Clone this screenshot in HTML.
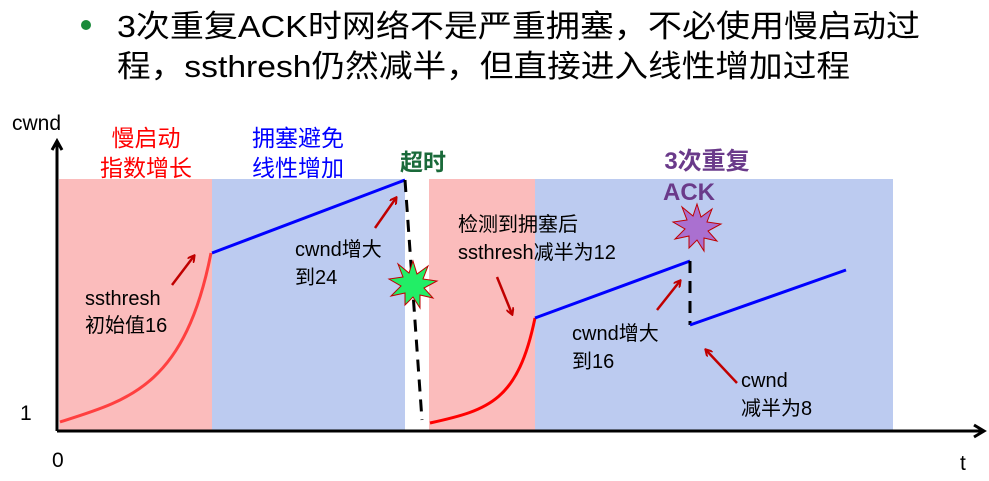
<!DOCTYPE html>
<html><head><meta charset="utf-8"><style>
html,body{margin:0;padding:0;background:#fff;}
svg{display:block;}
text{font-family:"Liberation Sans","Noto Sans CJK SC",sans-serif;}
</style></head><body>
<svg width="989" height="481" viewBox="0 0 989 481" xmlns="http://www.w3.org/2000/svg">
<defs>
<marker id="ar" markerWidth="8" markerHeight="8" refX="6" refY="4" orient="auto" markerUnits="userSpaceOnUse"><path d="M0,0 L7,4 L0,8" fill="none" stroke="#c00000" stroke-width="2"/></marker>
</defs>
<circle cx="86" cy="25" r="5" fill="#1a8a3a"/>
<text x="117" y="37" font-size="31" fill="#000" textLength="803" lengthAdjust="spacingAndGlyphs">3次重复ACK时网络不是严重拥塞，不必使用慢启动过</text>
<text x="117" y="77" font-size="31" fill="#000" textLength="733" lengthAdjust="spacingAndGlyphs">程，ssthresh仍然减半，但直接进入线性增加过程</text>
<rect x="59" y="179" width="153" height="251" fill="#fbbcbc"/>
<rect x="212" y="179" width="193" height="251" fill="#bccbf0"/>
<rect x="429" y="179" width="106" height="251" fill="#fbbcbc"/>
<rect x="535" y="179" width="358" height="251" fill="#bccbf0"/>
<line x1="57" y1="431" x2="982" y2="431" stroke="#000" stroke-width="3"/>
<path d="M974,425 L984,431 L974,437" fill="none" stroke="#000" stroke-width="3"/>
<line x1="57" y1="431" x2="57" y2="142" stroke="#000" stroke-width="3"/>
<path d="M52,150 L57,141 L62,150" fill="none" stroke="#000" stroke-width="3"/>
<path d="M60,422 C130,400 185,385 211,253" fill="none" stroke="#ff4040" stroke-width="3"/>
<line x1="212" y1="253" x2="405" y2="180" stroke="#0000ff" stroke-width="3"/>
<line x1="405" y1="180" x2="422" y2="420" stroke="#000" stroke-width="3" stroke-dasharray="12,8"/>
<path d="M430,423 C490,410 518,400 535,318" fill="none" stroke="#ff0000" stroke-width="3"/>
<line x1="535" y1="318" x2="690" y2="261" stroke="#0000ff" stroke-width="3"/>
<line x1="690" y1="261" x2="690" y2="325" stroke="#000" stroke-width="3" stroke-dasharray="12,8"/>
<line x1="690" y1="325" x2="846" y2="270" stroke="#0000ff" stroke-width="3"/>
<polygon points="413,261 417,274 428,266 423,279 437,281 424,288 433,298 420,295 420,308 413,297 405,305 405,293 391,296 401,286 389,279 403,277 398,264 409,273" fill="#22ee66" stroke="#c00000" stroke-width="1"/>
<polygon points="697,204 701,217 712,209 707,222 721,224 708,231 717,241 704,238 704,251 697,240 689,248 689,236 675,239 685,229 673,222 687,220 682,207 693,216" fill="#aa70d0" stroke="#c00000" stroke-width="1"/>
<g stroke="#c00000" stroke-width="2.5" marker-end="url(#ar)">
<line x1="172" y1="285" x2="194" y2="256"/>
<line x1="375" y1="228" x2="396" y2="198"/>
<line x1="497" y1="277" x2="512" y2="314"/>
<line x1="657" y1="310" x2="680" y2="281"/>
<line x1="737" y1="383" x2="706" y2="350"/>
</g>
<text x="12" y="130" font-size="21" fill="#000">cwnd</text>
<text x="20" y="420" font-size="21" fill="#000">1</text>
<text x="52" y="467" font-size="21" fill="#000">0</text>
<text x="960" y="470" font-size="21" fill="#000">t</text>
<g font-size="23" fill="#ff0000" text-anchor="middle"><text x="146" y="146">慢启动</text><text x="146" y="176">指数增长</text></g>
<g font-size="23" fill="#0000ff" text-anchor="middle"><text x="298" y="146">拥塞避免</text><text x="298" y="176">线性增加</text></g>
<text x="400" y="170" font-size="23" font-weight="bold" fill="#1a6a3a">超时</text>
<text x="707" y="169" font-size="24" font-weight="bold" fill="#6a3a8a" text-anchor="middle">3次重复</text>
<text x="689" y="200" font-size="24" font-weight="bold" fill="#6a3a8a" text-anchor="middle" font-family="Liberation Serif">ACK</text>
<g font-size="20" fill="#000">
<text x="85" y="305">ssthresh</text><text x="85" y="332">初始值16</text>
<text x="295" y="256">cwnd增大</text><text x="295" y="284">到24</text>
<text x="458" y="231">检测到拥塞后</text><text x="458" y="259">ssthresh减半为12</text>
<text x="572" y="340">cwnd增大</text><text x="572" y="368">到16</text>
<text x="741" y="387">cwnd</text><text x="741" y="415">减半为8</text>
</g>
</svg>
</body></html>
